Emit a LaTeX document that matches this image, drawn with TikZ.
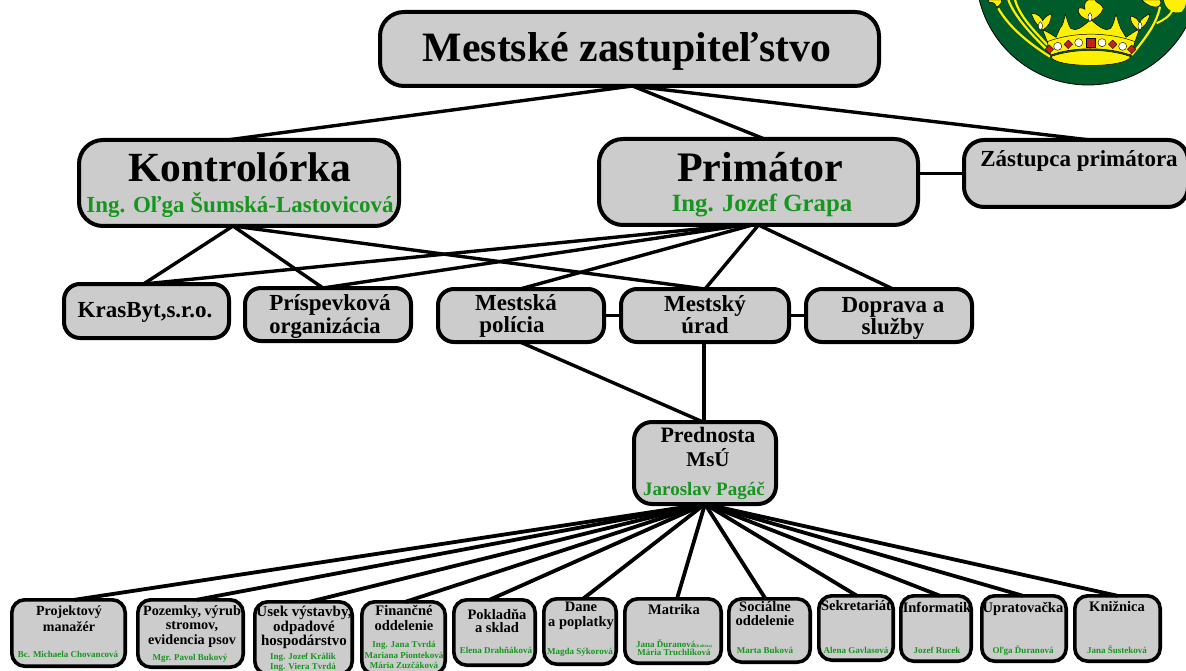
\documentclass[tikz,border=0pt]{standalone}
\usepackage{fontspec}
\setmainfont{Liberation Serif}
\definecolor{boxgray}{RGB}{204,204,204}
\definecolor{namegreen}{RGB}{22,150,30}
\definecolor{shield}{RGB}{0,92,42}
\definecolor{crown}{RGB}{253,240,0}
\definecolor{gem}{RGB}{196,32,28}
\newcommand{\bx}[7][20]{% radius name x1 y1 x2 y2 linewidth
  \pgfmathsetmacro{\bxw}{#5-#3-#7}\pgfmathsetmacro{\bxh}{#6-#4-#7}
  \pgfmathsetmacro{\bxx}{(#3+#5)/2}\pgfmathsetmacro{\bxy}{(#4+#6)/2}
  \node[orgbox,rounded corners=#1pt,line width=#7pt,minimum width=\bxw pt,minimum height=\bxh pt] (#2) at (\bxx,\bxy) {};}
\newcommand{\tl}[6][black]{% colour name x y size text
  \pgfmathsetmacro{\tly}{#4+0.33*#5}
  \node[lbl,text=#1,font=\bfseries\fontsize{#5}{#5}\selectfont] (#2) at (#3,\tly) {#6};}
\tikzset{
  orgbox/.style={draw=black,fill=boxgray,inner sep=0pt,outer sep=0pt},
  lbl/.style={inner sep=0pt,outer sep=0pt,anchor=base},
  link/.style={draw=black,line width=3.4pt},
  fanlink/.style={draw=black,line width=3.8pt},
  crownline/.style={draw=black,line width=.5pt,fill=crown}
}
\begin{document}
\begin{tikzpicture}[x=1pt,y=-1pt]
\useasboundingbox (0,0) rectangle (1186,671);
\clip (0,0) rectangle (1186,671);
\fill[white] (0,0) rectangle (1186,671);
% coat of arms
\fill[shield,draw=black,line width=.8pt] (1088,-27) circle[radius=112];
\begin{scope}[shift={(960,0)},x=.3333pt,y=-.3333pt]
 \draw[crown,line width=2.2pt] (270,170) .. controls (190,120) and (140,70) .. (115,25);
 \draw[crown,line width=2.2pt] (262,150) .. controls (210,100) and (165,50) .. (145,0);
 \draw[crown,line width=2.2pt] (262,135) .. controls (220,90) and (180,50) .. (165,0);
 \draw[crown,line width=2.2pt] (515,165) .. controls (560,110) and (590,70) .. (600,20);
 \draw[crown,line width=2pt] (590,70) .. controls (610,60) and (630,50) .. (640,25);
 \path[crownline] (88,8) .. controls (100,5) and (105,10) .. (110,22) .. controls (125,12) and (125,5) .. (125,0) -- (85,0) -- cycle;
 \path[crownline] (545,0) .. controls (560,15) and (580,25) .. (595,20) .. controls (605,10) and (605,5) .. (600,0) -- cycle;
 \path[fill=crown] (612,0) .. controls (615,25) and (640,45) .. (665,35) .. controls (680,20) and (678,5) .. (678,0) -- cycle;
 % arches
 \path[crownline] (262,125) -- (248,90) .. controls (265,95) and (275,105) .. (288,112) -- (300,85) .. controls (310,75) and (312,60) .. (316,42) .. controls (322,60) and (325,75) .. (332,85) .. controls (345,95) and (365,85) .. (392,58) .. controls (420,85) and (440,95) .. (452,85) .. controls (460,75) and (463,60) .. (468,42) .. controls (473,60) and (478,75) .. (482,85) -- (498,112) .. controls (510,105) and (520,95) .. (538,88) -- (525,125) -- (512,165) .. controls (440,140) and (340,140) .. (272,165) -- cycle;
 \path[crownline] (262,125) .. controls (340,95) and (445,95) .. (525,125) -- (512,165) .. controls (440,140) and (340,140) .. (272,165) -- cycle;
 \path[crownline] (272,170) .. controls (340,145) and (445,145) .. (512,170) .. controls (500,205) and (285,205) .. (272,170) -- cycle;
 % leaves
 \path[crownline] (248,90) .. controls (225,70) and (215,50) .. (215,40) .. controls (235,40) and (245,55) .. (248,62) .. controls (255,50) and (265,45) .. (273,42) .. controls (275,65) and (265,80) .. (248,90) -- cycle;
 \path[crownline] (535,90) .. controls (515,75) and (510,60) .. (512,48) .. controls (525,50) and (535,60) .. (538,68) .. controls (545,55) and (560,45) .. (570,42) .. controls (565,65) and (555,80) .. (535,90) -- cycle;
 \path[crownline] (392,62) .. controls (365,55) and (350,40) .. (355,25) .. controls (365,22) and (370,25) .. (375,28) .. controls (370,10) and (380,0) .. (385,0) -- (405,0) .. controls (405,8) and (425,10) .. (430,25) .. controls (425,45) and (405,55) .. (392,62) -- cycle;
 % white drops
 \path[fill=white,draw=black,line width=.4pt] (390,38) .. controls (398,45) and (398,60) .. (390,65) .. controls (382,60) and (382,45) .. (390,38) -- cycle;
 \path[fill=white,draw=black,line width=.4pt] (241,65) .. controls (250,72) and (250,85) .. (241,90) .. controls (233,85) and (233,72) .. (241,65) -- cycle;
 \path[fill=white,draw=black,line width=.4pt] (540,65) .. controls (548,72) and (548,85) .. (540,90) .. controls (532,85) and (532,72) .. (540,65) -- cycle;
 % gems
 \foreach \gx/\gy in {293/139,356/128,426/128,488/139}
   \path[fill=white,draw=black,line width=.4pt] (\gx,\gy) circle[radius=12];
 \foreach \gx/\gy in {325/133,458/133,268/148,515/148}
   \path[fill=gem,draw=black,line width=.3pt] (\gx-13,\gy) -- (\gx,\gy-13) -- (\gx+13,\gy) -- (\gx,\gy+13) -- cycle;
 \path[fill=gem,draw=black,line width=.4pt] (378,115) rectangle (406,143);
\end{scope}
% boxes
\bx[24]{top}{378}{10}{881}{88}{4}
\bx[24]{kontrol}{77}{138}{401}{228}{4}
\bx[24]{primator}{597}{137}{920}{227}{4}
\bx[20]{zastupca}{962}{138}{1190}{209}{4}
\bx[16]{krasbyt}{62}{282}{231}{340}{4}
\bx[16]{prispev}{243}{286}{413}{343}{4}
\bx[16]{policia}{436}{287}{606}{344}{4}
\bx[16]{urad}{619}{287}{791}{344}{4}
\bx[16]{doprava}{804}{287}{974}{344}{4}
\bx[18]{prednosta}{632}{420}{778}{506}{4}
\bx[13]{b1}{10}{598}{127}{668}{3.6}
\bx[13]{b2}{136}{598}{245}{669}{3.6}
\bx[13]{b3}{253}{600}{354}{676}{3.6}
\bx[13]{b4}{360}{600}{447}{676}{3.6}
\bx[13]{b5}{452}{598}{537}{667}{3.6}
\bx[13]{b6}{542}{597}{618}{666}{3.6}
\bx[13]{b7}{623}{597}{723}{665}{3.6}
\bx[13]{b8}{727}{597}{812}{664}{3.6}
\bx[13]{b9}{817}{594}{895}{662}{3.6}
\bx[13]{b10}{899}{594}{973}{663}{3.6}
\bx[13]{b11}{980}{594}{1068}{663}{3.6}
\bx[13]{b12}{1073}{594}{1162}{663}{3.6}
% connectors
\draw[link] ([xshift=3pt]top.south) -- ([xshift=-12pt]kontrol.north);
\draw[link] ([xshift=3pt]top.south) -- ([xshift=6pt]primator.north);
\draw[link] ([xshift=3pt]top.south) -- ([xshift=14pt]zastupca.north);
\draw[link] (primator.east |- zastupca.west) -- (zastupca.west);
\draw[link] ([xshift=-6pt]kontrol.south) -- ([xshift=-3pt]krasbyt.north);
\draw[link] ([xshift=-6pt]kontrol.south) -- ([xshift=-5pt]prispev.north);
\draw[link] ([xshift=-6pt]kontrol.south) -- ([xshift=0pt]urad.north);
\draw[link] ([xshift=-20pt]primator.south) -- ([xshift=-3pt]krasbyt.north);
\draw[link] ([xshift=-14pt]primator.south) -- ([xshift=-5pt]prispev.north);
\draw[link] ([xshift=-6pt]primator.south) -- ([xshift=-1pt]policia.north);
\draw[link] ([xshift=0pt]primator.south) -- ([xshift=0pt]urad.north);
\draw[link] ([xshift=0pt]primator.south) -- ([xshift=4pt]doprava.north);
\draw[link] (policia.east) -- (urad.west);
\draw[link] (urad.east) -- (doprava.west);
\draw[link] ([xshift=-1pt]urad.south) -- ([xshift=-1pt]prednosta.north);
\draw[link] ([xshift=-1pt]policia.south) -- ([xshift=-2pt]prednosta.north);
\foreach \bname/\bsh in {b1/6,b2/6,b3/6,b4/2,b5/-5,b6/3,b7/4,b8/-4,b9/1,b10/4,b11/-1,b12/0}
  \draw[fanlink] ([xshift=0pt]prednosta.south) -- ([xshift=\bsh pt]\bname.north);
% labels
\tl{t1}{627}{48}{41.8}{Mestské zastupiteľstvo}
\tl{t2}{240}{168}{41.5}{Kontrolórka}
\tl[namegreen]{t3}{240}{205}{23}{Ing. Oľga Šumská-Lastovicová}
\tl{t4}{760}{168}{42}{Primátor}
\tl[namegreen]{t5}{762}{203}{24.8}{Ing. Jozef Grapa}
\tl{t6}{1079}{159}{23}{Zástupca primátora}
\tl{t7}{145}{310}{23}{KrasByt,s.r.o.}
\tl{t8}{330}{303}{23}{Príspevková}
\tl{t9}{325}{326}{22.5}{organizácia}
\tl{t10}{516}{303}{23}{Mestská}
\tl{t11}{512}{325}{23}{polícia}
\tl{t12}{705}{304}{23}{Mestský}
\tl{t13}{705}{326}{23}{úrad}
\tl{t14}{893}{305}{23}{Doprava a}
\tl{t15}{893}{327}{23}{služby}
\tl{t16}{708}{435}{22}{Prednosta}
\tl{t17}{708}{460}{21}{MsÚ}
\tl[namegreen]{t18}{704}{489}{19}{Jaroslav Pagáč}
% bottom row
\tl{a1}{69}{611}{14}{Projektový}
\tl{a2}{69}{627}{14}{manažér}
\tl[namegreen]{a3}{68}{655}{9}{Bc. Michaela Chovancová}
\tl{a4}{192}{611}{14.2}{Pozemky, výrub}
\tl{a5}{192}{625}{14.2}{stromov,}
\tl{a6}{192}{640}{14.2}{evidencia psov}
\tl[namegreen]{a7}{190}{658}{9}{Mgr. Pavol Bukový}
\tl{a8}{304}{612}{15}{Úsek výstavby,}
\tl{a9}{304}{627}{15}{odpadové}
\tl{a10}{304}{641}{15}{hospodárstvo}
\tl[namegreen]{a11}{303}{657}{9}{Ing. Jozef Králik}
\tl[namegreen]{a12}{303}{667}{9}{Ing. Viera Tvrdá}
\tl{a13}{404}{611}{14.5}{Finančné}
\tl{a14}{404}{626}{14.5}{oddelenie}
\tl[namegreen]{a15}{404}{645}{9}{Ing. Jana Tvrdá}
\tl[namegreen]{a16}{404}{656}{9}{Mariana Pionteková}
\tl[namegreen]{a17}{404}{666}{9}{Mária Zuzčáková}
\tl{a18}{497}{615}{14.5}{Pokladňa}
\tl{a19}{497}{628}{14.5}{a sklad}
\tl[namegreen]{a20}{496}{651}{9}{Elena Drahňáková}
\tl{a21}{581}{607}{14.5}{Dane}
\tl{a22}{581}{622}{14.5}{a poplatky}
\tl[namegreen]{a23}{580}{652}{9}{Magda Sýkorová}
\tl{a24}{674}{610}{14.5}{Matrika}
\tl[namegreen]{a25}{674}{645}{9}{Jana Ďuranová{\fontsize{4}{4}\selectfont(Kultúra)}}
\tl[namegreen]{a26}{674}{653}{9}{Mária Truchlíková}
\tl{a27}{765}{607}{14.5}{Sociálne}
\tl{a28}{765}{621}{14.5}{oddelenie}
\tl[namegreen]{a29}{765}{651}{9}{Marta Buková}
\tl{a30}{856}{606}{14.5}{Sekretariát}
\tl[namegreen]{a31}{856}{651}{9}{Alena Gavlasová}
\tl{a32}{937}{608}{14.5}{Informatik}
\tl[namegreen]{a33}{937}{651}{9}{Jozef Rucek}
\tl{a34}{1023}{608}{14.5}{Upratovačka}
\tl[namegreen]{a35}{1023}{651}{9}{Oľga Ďuranová}
\tl{a36}{1117}{607}{14.5}{Knižnica}
\tl[namegreen]{a37}{1117}{651}{9}{Jana Šusteková}
\end{tikzpicture}
\end{document}
